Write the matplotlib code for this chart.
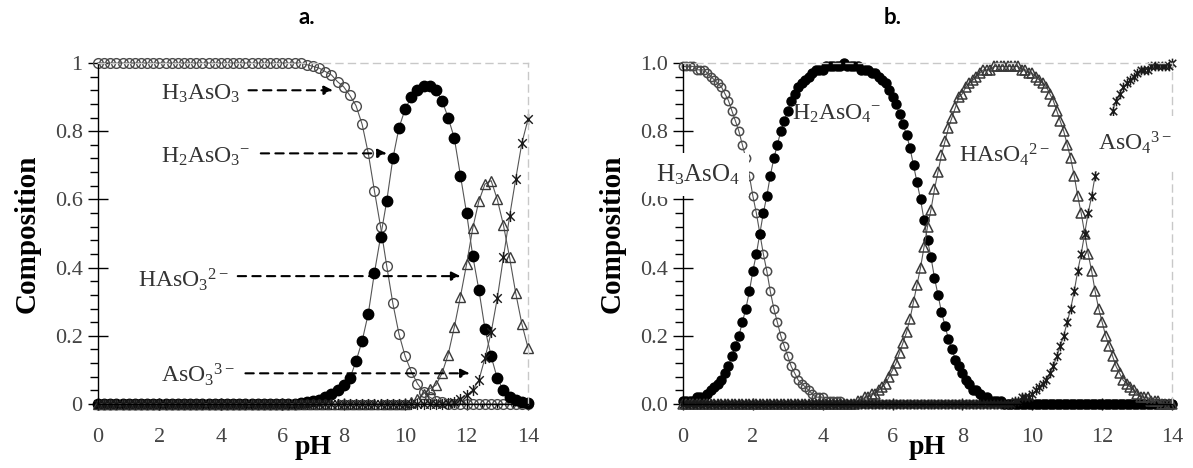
import numpy as np
import matplotlib
matplotlib.use("Agg")
import matplotlib.pyplot as plt
from matplotlib.path import Path
from matplotlib.ticker import MultipleLocator, FuncFormatter

plt.rcParams["font.family"] = ["Liberation Serif", "DejaVu Serif"]
plt.rcParams["mathtext.fontset"] = "custom"
plt.rcParams["mathtext.rm"] = "Liberation Serif"
plt.rcParams["mathtext.it"] = "Liberation Serif:italic"
plt.rcParams["mathtext.bf"] = "Liberation Serif:bold"

# ---- (a) arsenite species, pH 0-14 every 0.2 ----
ph_a = np.round(np.arange(0, 14.01, 0.2), 1)

h3aso3 = [
    1, 1, 1, 1, 1, 1, 1, 1, 1, 1,
    1, 1, 1, 1, 1, 1, 1, 1, 1, 1,
    1, 1, 1, 1, 1, 1, 1, 1, 1, 1,
    1.0, 1.0, 1.0, 1.0, 0.995, 0.99, 0.985, 0.975, 0.965, 0.945,
    0.93, 0.905, 0.875, 0.82, 0.735, 0.625, 0.52, 0.405, 0.295, 0.205,
    0.14, 0.095, 0.06, 0.035, 0.02, 0.01, 0.005, 0.0, 0.0, 0.0,
    0, 0, 0, 0, 0, 0, 0, 0, 0, 0,
    0.0,
]
h2aso3 = [
    0, 0, 0, 0, 0, 0, 0, 0, 0, 0,
    0, 0, 0, 0, 0, 0, 0, 0, 0, 0,
    0, 0, 0, 0, 0, 0, 0, 0, 0, 0,
    0.0, 0.0, 0.0, 0.002, 0.005, 0.008, 0.012, 0.02, 0.03, 0.04,
    0.055, 0.075, 0.125, 0.185, 0.265, 0.385, 0.49, 0.595, 0.72, 0.81,
    0.865, 0.90, 0.92, 0.932, 0.932, 0.92, 0.89, 0.84, 0.78, 0.67,
    0.56, 0.435, 0.335, 0.22, 0.14, 0.075, 0.04, 0.02, 0.012, 0.006,
    0.004,
]
haso3 = [
    0, 0, 0, 0, 0, 0, 0, 0, 0, 0,
    0, 0, 0, 0, 0, 0, 0, 0, 0, 0,
    0, 0, 0, 0, 0, 0, 0, 0, 0, 0,
    0, 0, 0, 0, 0, 0, 0, 0, 0, 0,
    0, 0, 0, 0, 0, 0, 0, 0, 0, 0,
    0.0, 0.005, 0.015, 0.03, 0.045, 0.055, 0.09, 0.145, 0.225, 0.315,
    0.41, 0.515, 0.595, 0.645, 0.655, 0.60, 0.525, 0.43, 0.325, 0.235,
    0.165,
]
aso3 = [
    0, 0, 0, 0, 0, 0, 0, 0, 0, 0,
    0, 0, 0, 0, 0, 0, 0, 0, 0, 0,
    0, 0, 0, 0, 0, 0, 0, 0, 0, 0,
    0, 0, 0, 0, 0, 0, 0, 0, 0, 0,
    0, 0, 0, 0, 0, 0, 0, 0, 0, 0,
    0, 0, 0, 0, 0, 0, 0, 0.002, 0.005, 0.015,
    0.025, 0.04, 0.07, 0.135, 0.21, 0.31, 0.43, 0.55, 0.66, 0.765,
    0.835,
]

# ---- (b) arsenate species, pH 0-14 every 0.1 ----
ph_b = np.round(np.arange(0, 14.001, 0.1), 1)

h3aso4 = [
    0.99, 0.99, 0.99, 0.99, 0.98, 0.98, 0.98, 0.97, 0.96, 0.95,
    0.94, 0.93, 0.91, 0.89, 0.86, 0.83, 0.80, 0.76, 0.72, 0.67,
    0.61, 0.56, 0.50, 0.44, 0.39, 0.33, 0.28, 0.24, 0.20, 0.17,
    0.14, 0.11, 0.09, 0.07, 0.06, 0.05, 0.04, 0.03, 0.02, 0.02,
    0.02, 0.01, 0.01, 0.01, 0.01, 0.01, 0, 0, 0, 0,
    0, 0, 0, 0, 0, 0, 0, 0, 0, 0,
    0, 0, 0, 0, 0, 0, 0, 0, 0, 0,
    0, 0, 0, 0, 0, 0, 0, 0, 0, 0,
    0, 0, 0, 0, 0, 0, 0, 0, 0, 0,
    0, 0, 0, 0, 0, 0, 0, 0, 0, 0,
    0, 0, 0, 0, 0, 0, 0, 0, 0, 0,
    0, 0, 0, 0, 0, 0, 0, 0, 0, 0,
    0, 0, 0, 0, 0, 0, 0, 0, 0, 0,
    0, 0, 0, 0, 0, 0, 0, 0, 0, 0,
    0,
]
h2aso4 = [
    0.01, 0.01, 0.01, 0.01, 0.02, 0.02, 0.02, 0.03, 0.04, 0.05,
    0.06, 0.07, 0.09, 0.11, 0.14, 0.17, 0.20, 0.24, 0.28, 0.33,
    0.39, 0.44, 0.50, 0.56, 0.61, 0.67, 0.72, 0.76, 0.80, 0.83,
    0.86, 0.89, 0.91, 0.93, 0.94, 0.95, 0.96, 0.97, 0.98, 0.98,
    0.98, 0.99, 0.99, 0.99, 0.99, 0.99, 1.00, 0.99, 0.99, 0.99,
    0.99, 0.98, 0.98, 0.98, 0.97, 0.97, 0.96, 0.95, 0.94, 0.92,
    0.90, 0.88, 0.85, 0.82, 0.79, 0.75, 0.70, 0.65, 0.60, 0.54,
    0.48, 0.43, 0.37, 0.32, 0.27, 0.23, 0.19, 0.16, 0.13, 0.11,
    0.09, 0.07, 0.06, 0.04, 0.04, 0.03, 0.02, 0.02, 0.01, 0.01,
    0.01, 0.01, 0, 0, 0, 0, 0, 0, 0, 0,
    0, 0, 0, 0, 0, 0, 0, 0, 0, 0,
    0, 0, 0, 0, 0, 0, 0, 0, 0, 0,
    0, 0, 0, 0, 0, 0, 0, 0, 0, 0,
    0, 0, 0, 0, 0, 0, 0, 0, 0, 0,
    0,
]
haso4 = [
    0, 0, 0, 0, 0, 0, 0, 0, 0, 0,
    0, 0, 0, 0, 0, 0, 0, 0, 0, 0,
    0, 0, 0, 0, 0, 0, 0, 0, 0, 0,
    0, 0, 0, 0, 0, 0, 0, 0, 0, 0,
    0, 0, 0, 0, 0, 0, 0, 0, 0, 0,
    0.01, 0.01, 0.02, 0.02, 0.03, 0.03, 0.04, 0.05, 0.06, 0.08,
    0.10, 0.12, 0.15, 0.18, 0.21, 0.25, 0.30, 0.35, 0.40, 0.46,
    0.52, 0.57, 0.63, 0.68, 0.73, 0.77, 0.81, 0.84, 0.87, 0.90,
    0.91, 0.93, 0.94, 0.95, 0.96, 0.97, 0.98, 0.98, 0.98, 0.99,
    0.99, 0.99, 0.99, 0.99, 0.99, 0.99, 0.99, 0.98, 0.98, 0.97,
    0.97, 0.96, 0.95, 0.94, 0.93, 0.91, 0.89, 0.86, 0.83, 0.80,
    0.76, 0.72, 0.67, 0.61, 0.56, 0.50, 0.44, 0.39, 0.33, 0.28,
    0.24, 0.20, 0.17, 0.14, 0.11, 0.09, 0.07, 0.06, 0.05, 0.04,
    0.03, 0.02, 0.02, 0.02, 0.01, 0.01, 0.01, 0, 0, 0,
    0,
]
aso4 = [
    0, 0, 0, 0, 0, 0, 0, 0, 0, 0,
    0, 0, 0, 0, 0, 0, 0, 0, 0, 0,
    0, 0, 0, 0, 0, 0, 0, 0, 0, 0,
    0, 0, 0, 0, 0, 0, 0, 0, 0, 0,
    0, 0, 0, 0, 0, 0, 0, 0, 0, 0,
    0, 0, 0, 0, 0, 0, 0, 0, 0, 0,
    0, 0, 0, 0, 0, 0, 0, 0, 0, 0,
    0, 0, 0, 0, 0, 0, 0, 0, 0, 0,
    0, 0, 0, 0, 0, 0, 0, 0, 0, 0,
    0, 0, 0, 0, 0, 0.01, 0.01, 0.02, 0.02, 0.02,
    0.03, 0.04, 0.05, 0.06, 0.07, 0.09, 0.11, 0.14, 0.17, 0.20,
    0.24, 0.28, 0.33, 0.39, 0.44, 0.50, 0.56, 0.61, 0.67, 0.72,
    0.76, 0.80, 0.83, 0.86, 0.89, 0.91, 0.93, 0.94, 0.95, 0.96,
    0.97, 0.98, 0.98, 0.98, 0.99, 0.99, 0.99, 0.99, 0.99, 0.99,
    1.00,
]

for s in (h3aso3, h2aso3, haso3, aso3):
    assert len(s) == len(ph_a)
for s in (h3aso4, h2aso4, haso4, aso4):
    assert len(s) == len(ph_b)

LINE = "#555555"
TXT = "#333333"

# spreadsheet-style star: an X with a vertical stroke through it
STAR = Path([(-1, -1), (1, 1), (-1, 1), (1, -1), (0, -1.3), (0, 1.3)],
            [Path.MOVETO, Path.LINETO] * 3)


def style_axes(ax, fmt):
    ax.set_xlim(0, 14)
    ax.set_ylim(0, 1)
    for side in ("top", "right"):
        ax.spines[side].set_linestyle((0, (5, 4)))
        ax.spines[side].set_color("#c8c8c8")
        ax.spines[side].set_linewidth(1.0)
    for side in ("left", "bottom"):
        ax.spines[side].set_color("black")
        ax.spines[side].set_linewidth(1.0)
    ax.xaxis.set_major_locator(MultipleLocator(2))
    ax.xaxis.set_minor_locator(MultipleLocator(0.5))
    ax.yaxis.set_major_locator(MultipleLocator(0.2))
    ax.yaxis.set_minor_locator(MultipleLocator(0.04))
    ax.yaxis.set_major_formatter(FuncFormatter(lambda v, _: fmt % v))
    ax.tick_params(axis="y", which="major", direction="inout", length=14,
                   width=1, labelsize=16, labelcolor="#444444", pad=4)
    ax.tick_params(axis="y", which="minor", direction="out", length=6, width=1)
    ax.tick_params(axis="x", which="major", direction="inout", length=8,
                   width=1, labelsize=16, labelcolor="#444444", pad=13)
    ax.tick_params(axis="x", which="minor", direction="out", length=3, width=0.8)
    ax.set_ylabel("Composition", fontsize=21, fontweight="bold", labelpad=10)
    ax.set_xlabel("pH", fontsize=20, fontweight="bold", labelpad=-8)


def plot_series(ax, x, y, kind, ms, mew=1.0):
    common = dict(color=LINE, lw=0.8, clip_on=False, ms=ms, mew=mew)
    if kind == "open_circle":
        ax.plot(x, y, marker="o", mfc="none", mec="#4a4a4a", **common)
    elif kind == "dot":
        ax.plot(x, y, marker="o", mfc="black", mec="black", **common)
    elif kind == "triangle":
        ax.plot(x, y, marker="^", mfc="none", mec="#3a3a3a", **common)
    else:
        ax.plot(x, y, marker=STAR, mec="#1a1a1a", **common)


fig = plt.figure(figsize=(11.93, 4.68), dpi=100)
ax_a = fig.add_axes([98 / 1193, 1 - 404 / 468, 430 / 1193, 341 / 468])
ax_b = fig.add_axes([683 / 1193, 1 - 404 / 468, 489 / 1193, 341 / 468])

# panel a
style_axes(ax_a, "%g")
plot_series(ax_a, ph_a, h3aso3, "open_circle", 7)
plot_series(ax_a, ph_a, h2aso3, "dot", 7.5)
plot_series(ax_a, ph_a, haso3, "triangle", 7.5)
plot_series(ax_a, ph_a, aso3, "star", 8)

arrow = dict(arrowstyle="-|>", color="black", lw=1.5, linestyle=(0, (4, 3)),
             mutation_scale=13, shrinkA=0, shrinkB=0)
labels_a = [
    (r"H$_3$AsO$_3$", 2.06, 0.91, 4.9, 7.65, 0.92),
    (r"H$_2$AsO$_3$$^{-}$", 2.06, 0.725, 5.3, 9.4, 0.735),
    (r"HAsO$_3$$^{2-}$", 1.31, 0.365, 4.55, 11.8, 0.375),
    (r"AsO$_3$$^{3-}$", 2.06, 0.085, 4.8, 12.1, 0.09),
]
for txt, tx, ty, x0, x1, ya in labels_a:
    ax_a.text(tx, ty, txt, fontsize=17, color=TXT, ha="left", va="center")
    ax_a.annotate("", xy=(x1, ya), xytext=(x0, ya), arrowprops=arrow)

# panel b
style_axes(ax_b, "%.1f")
plot_series(ax_b, ph_b, h3aso4, "open_circle", 6, 1.1)
plot_series(ax_b, ph_b, h2aso4, "dot", 6.5)
plot_series(ax_b, ph_b, haso4, "triangle", 6.5, 1.1)
plot_series(ax_b, ph_b, aso4, "star", 7, 1.1)

ax_b.text(0.42, 0.673, r"H$_3$AsO$_4$", fontsize=18, color=TXT, ha="center",
          va="center", zorder=10, clip_on=False,
          bbox=dict(facecolor="white", edgecolor="none",
                    boxstyle="square,pad=0.38"))
ax_b.text(4.4, 0.85, r"H$_2$AsO$_4$$^{-}$", fontsize=17, color=TXT,
          ha="center", va="center", zorder=10)
ax_b.text(7.9, 0.73, r"HAsO$_4$$^{2-}$", fontsize=17, color=TXT, ha="left",
          va="center", zorder=10)
ax_b.text(12.95, 0.765, r"AsO$_4$$^{3-}$", fontsize=17, color=TXT,
          ha="center", va="center", zorder=10, clip_on=False,
          bbox=dict(facecolor="white", edgecolor="none",
                    boxstyle="square,pad=0.6"))

fig.text(307 / 1193, 1 - 17 / 468, "a.", fontsize=16, fontweight="bold",
         family="Lato", ha="center", va="center")
fig.text(893 / 1193, 1 - 17 / 468, "b.", fontsize=16, fontweight="bold",
         family="Lato", ha="center", va="center")

fig.savefig("out.png", dpi=100)
